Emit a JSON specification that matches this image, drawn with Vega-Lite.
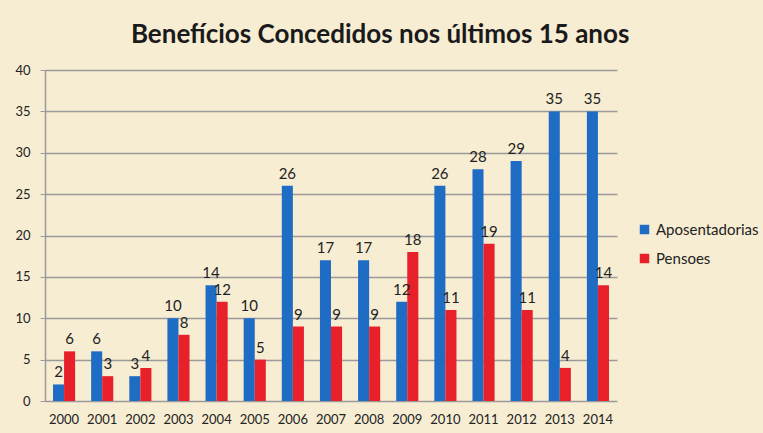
{
  "$schema": "https://vega.github.io/schema/vega-lite/v6.json",
  "width": 572,
  "height": 331,
  "autosize": {"type": "none"},
  "padding": {"left": 45, "top": 70, "right": 146, "bottom": 32},
  "background": "#f7edd3",
  "title": {
    "text": "Benefícios Concedidos nos últimos 15 anos",
    "font": "Lato",
    "fontSize": 26,
    "fontWeight": "bold",
    "color": "#1a1a1a",
    "anchor": "start",
    "offset": 0,
    "dx": 116,
    "dy": -16
  },
  "config": {
    "view": {"stroke": null},
    "font": "Lato",
    "axis": {"labelFont": "Lato", "labelFontSize": 13, "labelColor": "#222", "titleFont": "Lato"}
  },
  "data": {
    "values": [
      {"ano": "2000", "serie": "Aposentadorias", "valor": 2},
      {"ano": "2001", "serie": "Aposentadorias", "valor": 6},
      {"ano": "2002", "serie": "Aposentadorias", "valor": 3},
      {"ano": "2003", "serie": "Aposentadorias", "valor": 10},
      {"ano": "2004", "serie": "Aposentadorias", "valor": 14},
      {"ano": "2005", "serie": "Aposentadorias", "valor": 10},
      {"ano": "2006", "serie": "Aposentadorias", "valor": 26},
      {"ano": "2007", "serie": "Aposentadorias", "valor": 17},
      {"ano": "2008", "serie": "Aposentadorias", "valor": 17},
      {"ano": "2009", "serie": "Aposentadorias", "valor": 12},
      {"ano": "2010", "serie": "Aposentadorias", "valor": 26},
      {"ano": "2011", "serie": "Aposentadorias", "valor": 28},
      {"ano": "2012", "serie": "Aposentadorias", "valor": 29},
      {"ano": "2013", "serie": "Aposentadorias", "valor": 35},
      {"ano": "2014", "serie": "Aposentadorias", "valor": 35},
      {"ano": "2000", "serie": "Pensoes", "valor": 6},
      {"ano": "2001", "serie": "Pensoes", "valor": 3},
      {"ano": "2002", "serie": "Pensoes", "valor": 4},
      {"ano": "2003", "serie": "Pensoes", "valor": 8},
      {"ano": "2004", "serie": "Pensoes", "valor": 12},
      {"ano": "2005", "serie": "Pensoes", "valor": 5},
      {"ano": "2006", "serie": "Pensoes", "valor": 9},
      {"ano": "2007", "serie": "Pensoes", "valor": 9},
      {"ano": "2008", "serie": "Pensoes", "valor": 9},
      {"ano": "2009", "serie": "Pensoes", "valor": 18},
      {"ano": "2010", "serie": "Pensoes", "valor": 11},
      {"ano": "2011", "serie": "Pensoes", "valor": 19},
      {"ano": "2012", "serie": "Pensoes", "valor": 11},
      {"ano": "2013", "serie": "Pensoes", "valor": 4},
      {"ano": "2014", "serie": "Pensoes", "valor": 14}
    ]
  },
  "encoding": {
    "x": {
      "field": "ano", "type": "nominal", "title": null,
      "scale": {"paddingInner": 0.42, "paddingOuter": 0.21},
      "axis": {"labelAngle": 0, "ticks": false, "domain": false, "labelPadding": 12}
    },
    "xOffset": {"field": "serie", "type": "nominal", "sort": ["Aposentadorias", "Pensoes"]},
    "y": {
      "field": "valor", "type": "quantitative", "title": null,
      "scale": {"domain": [0, 40], "nice": false},
      "axis": {"values": [0, 5, 10, 15, 20, 25, 30, 35, 40], "gridColor": "#9a9a9a", "gridWidth": 1.5, "gridOpacity": 1, "domainColor": "#9a9a9a", "domainWidth": 1.5, "ticks": true, "tickColor": "#9a9a9a", "tickSize": 5, "labelPadding": 10}
    }
  },
  "layer": [
    {
      "mark": {"type": "bar"},
      "encoding": {
        "color": {
          "field": "serie", "type": "nominal", "title": null,
          "scale": {"domain": ["Aposentadorias", "Pensoes"], "range": ["#1f6cc4", "#e8202a"]},
          "legend": {"orient": "none", "legendX": 592, "legendY": 152, "symbolType": "square", "symbolSize": 90, "labelFontSize": 15, "labelFont": "Lato", "labelColor": "#222", "rowPadding": 13, "symbolStrokeWidth": 0}
        }
      }
    },
    {
      "mark": {"type": "text", "baseline": "bottom", "dy": -4, "fontSize": 15, "color": "#222", "font": "Lato"},
      "encoding": {"text": {"field": "valor", "type": "quantitative"}}
    }
  ]
}
